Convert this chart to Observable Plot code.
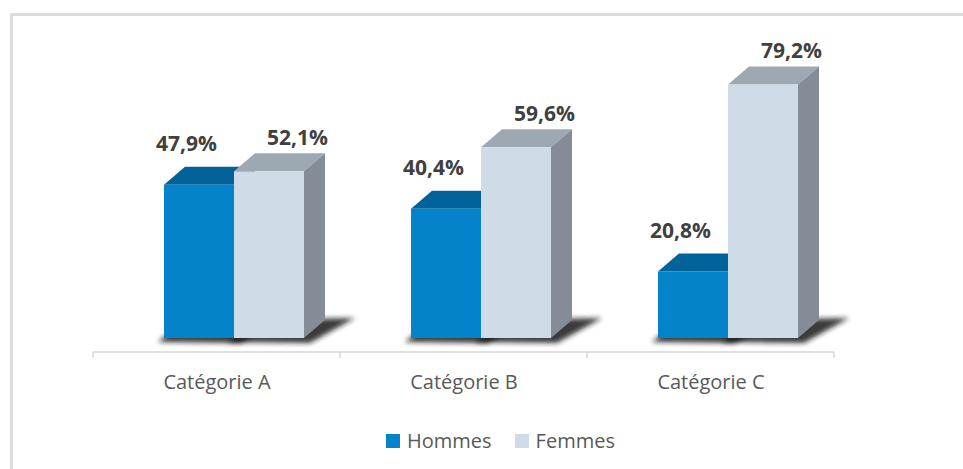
<!DOCTYPE html>
<html><head><meta charset="utf-8">
<script src="https://cdn.jsdelivr.net/npm/d3@7"></script>
<script src="https://cdn.jsdelivr.net/npm/@observablehq/plot@0.6"></script>
<style>
html,body{margin:0;padding:0;background:#fff;}
#chart{position:relative;width:963px;height:469px;overflow:hidden;font-family:"Open Sans",sans-serif;}
#frame{position:absolute;left:10px;top:13px;width:1000px;height:520px;border-left:3px solid #dcdcdc;border-top:3px solid #dcdcdc;box-sizing:border-box;}
#plot{position:absolute;left:0;top:0;}
#legend{position:absolute;left:386px;top:424px;}
.lg-swatches{min-height:33px;}
.lg-swatch{margin-right:23px !important;}
.lg-swatch > svg{margin-right:7px !important;}
</style></head>
<body><div id="chart"><div id="frame"></div><div id="plot"></div><div id="legend"></div></div>
<script>
// ---- data ----
const categories = ["Catégorie A", "Catégorie B", "Catégorie C"];
const series = ["Hommes", "Femmes"];
const hommes = [47.9, 40.4, 20.8];
const femmes = [52.1, 59.6, 79.2];

// ---- styles ----
const frontColors = ["#0482CA", "#CFDBE6"];
const topColors = ["#01629A", "#9DA8B2"];
const sideColors = ["#015A8C", "#848D97"];
const axisColor = "#d6d6d6";
const DX = 21, DY = 18;

const rows = categories.flatMap((c, i) => [
  {cat: c, series: series[0], value: hommes[i]},
  {cat: c, series: series[1], value: femmes[i]}
]);
const fmt = d => d.value.toFixed(1).replace(".", ",") + "%";

let uid = 0;
function shadowRender(index, scales, values) {
  const g = d3.create("svg:g");
  const id = "blur" + (uid++);
  g.append("defs").append("filter").attr("id", id)
    .attr("x", "-50%").attr("y", "-50%").attr("width", "200%").attr("height", "200%")
    .append("feGaussianBlur").attr("stdDeviation", 2.8);
  const bw = scales.x.bandwidth();
  for (const i of index) {
    const xa = values.x[i], xb = xa + bw;
    const yb = Math.max(values.y1[i], values.y2[i]);
    g.append("path")
      .attr("d", `M${xa - 6},${yb + 4}L${xb + 6},${yb + 5}L${xb + DX + 30},${yb - DY - 2}L${xa + DX},${yb - DY}Z`)
      .attr("fill", "#1a1a1a").attr("fill-opacity", 0.85)
      .attr("filter", `url(#${id})`);
  }
  return g.node();
}

function boxRender(index, scales, values, dimensions, context, next) {
  const g = d3.create("svg:g");
  const bw = scales.x.bandwidth();
  for (const i of index) {
    const k = series.indexOf(rows[i].series);
    const xa = values.x[i], xb = xa + bw;
    const yt = Math.min(values.y1[i], values.y2[i]);
    const yb = Math.max(values.y1[i], values.y2[i]);
    g.append("path")
      .attr("d", `M${xa},${yt}L${xa + DX},${yt - DY}L${xb + DX},${yt - DY}L${xb},${yt}Z`)
      .attr("fill", topColors[k]);
    g.append("path")
      .attr("d", `M${xb},${yt}L${xb + DX},${yt - DY}L${xb + DX},${yb - DY}L${xb},${yb}Z`)
      .attr("fill", sideColors[k]);
  }
  g.node().appendChild(next(index, scales, values, dimensions, context));
  return g.node();
}

function axisRender(index, scales) {
  const g = d3.create("svg:g").attr("stroke", axisColor).attr("stroke-width", 1.4);
  const [r0, r1] = scales.x.range();
  const y = scales.y(0) + 14;
  for (const i of index) {
    g.append("line").attr("x1", r0).attr("x2", r1).attr("y1", y).attr("y2", y);
    g.append("line").attr("x1", r0).attr("x2", r0).attr("y1", y).attr("y2", y + 6);
    if (categories[i] === categories[categories.length - 1])
      g.append("line").attr("x1", r1).attr("x2", r1).attr("y1", y).attr("y2", y + 6);
  }
  return g.node();
}

const chart = Plot.plot({
  width: 963,
  height: 469,
  marginLeft: 92,
  marginRight: 128,
  marginTop: 18,
  marginBottom: 131,
  style: {fontFamily: "Open Sans", background: "transparent"},
  fx: {domain: categories, padding: 0, axis: null},
  x: {domain: series, paddingInner: 0, paddingOuter: 0.7565, align: 0.6656, axis: null},
  y: {domain: [0, 100], axis: null},
  color: {domain: series, range: frontColors},
  marks: [
    Plot.ruleY(categories, {fx: d => d, y: () => 0, render: axisRender}),
    Plot.text(categories, {fx: d => d, text: d => d, frameAnchor: "bottom", dy: 44.5, lineAnchor: "middle",
      fontSize: 20, fill: "#595959"}),
    Plot.barY(rows, {fx: "cat", x: "series", y: "value", fill: "series", render: shadowRender}),
    Plot.barY(rows, {fx: "cat", x: "series", y: "value", fill: "series", render: boxRender}),
    Plot.text(rows.filter(d => d.series === series[0]), {fx: "cat", x: "series", y: "value", text: fmt,
      dx: -13, dy: -41, lineAnchor: "middle", fontSize: 21, fontWeight: "bold", fill: "#404040"}),
    Plot.text(rows.filter(d => d.series === series[1]), {fx: "cat", x: "series", y: "value", text: fmt,
      dx: 28, dy: -34, lineAnchor: "middle", fontSize: 21, fontWeight: "bold", fill: "#404040"})
  ]
});
document.getElementById("plot").appendChild(chart);

const legend = Plot.legend({
  color: {domain: series, range: frontColors},
  legend: "swatches",
  swatchSize: 14,
  className: "lg",
  style: {fontSize: "20px", fontFamily: "Open Sans", color: "#595959", marginLeft: "0px"}
});
document.getElementById("legend").appendChild(legend);
</script>
</body></html>
